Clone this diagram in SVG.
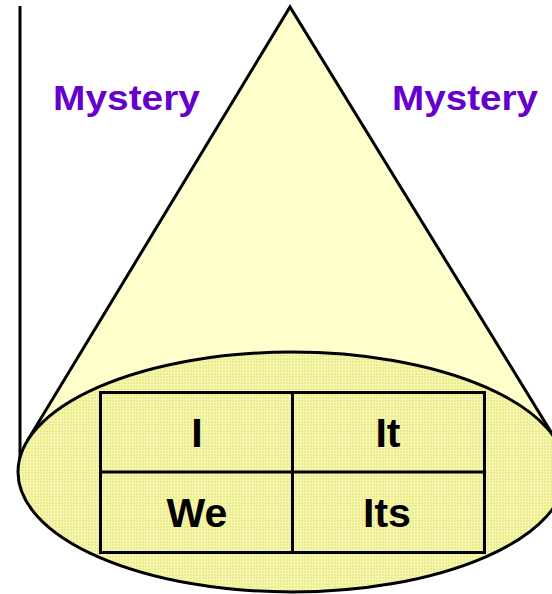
<svg xmlns="http://www.w3.org/2000/svg" width="552" height="594" viewBox="0 0 552 594">
  <style>
    .line { fill: none; stroke: #000; stroke-width: 3; }
    .mystery { font-family: "Liberation Sans", Arial, sans-serif; font-weight: bold; font-size: 35px; fill: #6600cc; }
    .cell { font-family: "Liberation Sans", Arial, sans-serif; font-weight: bold; font-size: 41px; fill: #000; text-anchor: middle; }
  </style>
  <defs>
    <pattern id="dots" width="3" height="3" patternUnits="userSpaceOnUse">
      <rect width="3" height="3" fill="#ecec84"/>
      <rect x="0" y="0" width="3" height="1" fill="#f6f6b8"/>
      <rect x="0" y="0" width="1" height="3" fill="#f6f6b8"/>
    </pattern>
  </defs>
  <rect width="552" height="594" fill="#fff"/>
  <g id="axis">
    <line class="line" x1="20" y1="6" x2="20" y2="470"/>
  </g>
  <g id="cone">
    <path d="M290,7 L27.2,441 L556.6,441 Z" fill="#ffffcc"/>
    <polyline class="line" points="27.2,441 290,7 556.6,441" stroke-linejoin="miter"/>
  </g>
  <g id="base">
    <ellipse cx="292" cy="472" rx="274" ry="120" fill="url(#dots)" stroke="#000" stroke-width="3"/>
  </g>
  <g id="label-left">
    <text class="mystery" x="53" y="109.5" textLength="147" lengthAdjust="spacingAndGlyphs">Mystery</text>
  </g>
  <g id="label-right">
    <text class="mystery" x="392" y="109.5" textLength="146" lengthAdjust="spacingAndGlyphs">Mystery</text>
  </g>
  <g id="quadrants">
    <rect class="line" x="100.5" y="392.5" width="384" height="160"/>
    <line class="line" x1="292.5" y1="392.5" x2="292.5" y2="552.5"/>
    <line class="line" x1="100.5" y1="472" x2="484.5" y2="472"/>
  </g>
  <g id="cell-I"><text class="cell" x="197" y="446.5">I</text></g>
  <g id="cell-It"><text class="cell" x="388" y="446.5">It</text></g>
  <g id="cell-We"><text class="cell" x="197" y="526.5">We</text></g>
  <g id="cell-Its"><text class="cell" x="387" y="526.5">Its</text></g>
</svg>
